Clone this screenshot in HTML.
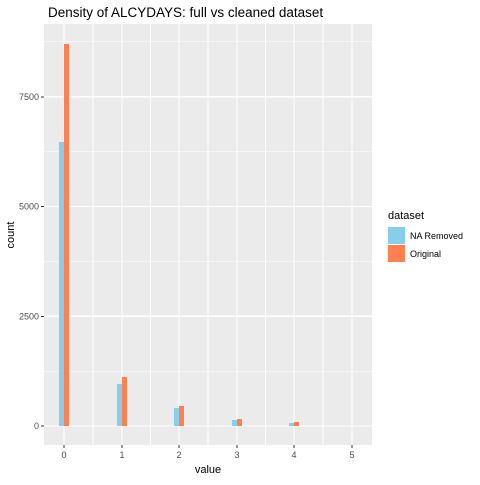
<!DOCTYPE html>
<html><head><style>
body{margin:0;background:#fff;font-family:"Liberation Sans",sans-serif;}
text{font-family:"Liberation Sans",sans-serif;}
</style></head><body>
<svg width="480" height="480" xmlns="http://www.w3.org/2000/svg" shape-rendering="crispEdges">
<rect width="480" height="480" fill="#fff"/>
<rect x="44" y="24" width="328" height="421" fill="#ebebeb"/>
<g id="grid"></g>
<g id="bars"></g>
<g id="axes"></g>
<text x="48" y="17" font-size="13.5" fill="#000" shape-rendering="auto">Density of ALCYDAYS: full vs cleaned dataset</text>
<text x="208" y="473" font-size="11" text-anchor="middle" fill="#000">value</text>
<text x="14" y="235" font-size="11" text-anchor="middle" fill="#000" transform="rotate(-90 14 235)">count</text>
<g>
<text x="388" y="219" font-size="11" fill="#000">dataset</text>
<rect x="388" y="227" width="17" height="17" fill="#87ceeb"/>
<text x="410" y="239" font-size="9" fill="#000">NA Removed</text>
<rect x="388" y="245" width="17" height="17" fill="#ff7f50"/>
<text x="410" y="257" font-size="9" fill="#000">Original</text>
</g>
</svg>
<script>
const categories=[0,1,2,3,4,5];
const naRemoved=[6470,957,410,137,68,0];
const original=[8700,1116,456,160,91,0];
const yTicks=[0,2500,5000,7500];
const yMinor=[1250,3750,6250,8750];
const NS="http://www.w3.org/2000/svg";
const xs=v=>Math.round(64+v*57.6);
const ys=v=>426-v*0.0439;
const grid=document.getElementById('grid'),bars=document.getElementById('bars'),axes=document.getElementById('axes');
function mk(tag,attrs,parent){const e=document.createElementNS(NS,tag);for(const k in attrs)e.setAttribute(k,attrs[k]);parent.appendChild(e);return e;}
yMinor.forEach(v=>{const l=mk('line',{x1:44,x2:372,y1:ys(v),y2:ys(v),stroke:'#fff','stroke-width':0.6},grid);

});
for(let i=0;i<categories.length-1;i++){const x=(xs(categories[i])+xs(categories[i+1]))/2;const l=mk('line',{x1:x,x2:x,y1:24,y2:445,stroke:'#fff','stroke-width':0.6},grid);

}
yTicks.forEach(v=>{const l=mk('line',{x1:44,x2:372,y1:ys(v),y2:ys(v),stroke:'#fff','stroke-width':1.2},grid);


const t=mk('line',{x1:41,x2:44,y1:ys(v),y2:ys(v),stroke:'#333'},axes);


const tx=mk('text',{x:39,y:ys(v)+3,'font-size':9,'text-anchor':'end',fill:'#4d4d4d'},axes);tx.textContent=v;

});
categories.forEach((c,i)=>{const x=xs(c);
const l=mk('line',{x1:x,x2:x,y1:24,y2:445,stroke:'#fff','stroke-width':1.2},grid);


const t=mk('line',{x1:x,x2:x,y1:445,y2:448,stroke:'#333'},axes);


const tx=mk('text',{x:x,y:458,'font-size':9,'text-anchor':'middle',fill:'#4d4d4d'},axes);tx.textContent=c;


const b1=mk('rect',{x:x-5,y:ys(naRemoved[i]),width:5,height:ys(0)-ys(naRemoved[i]),fill:'#87ceeb'},bars);


const b2=mk('rect',{x:x,y:ys(original[i]),width:5,height:ys(0)-ys(original[i]),fill:'#ff7f50'},bars);

});
</script>
</body></html>
